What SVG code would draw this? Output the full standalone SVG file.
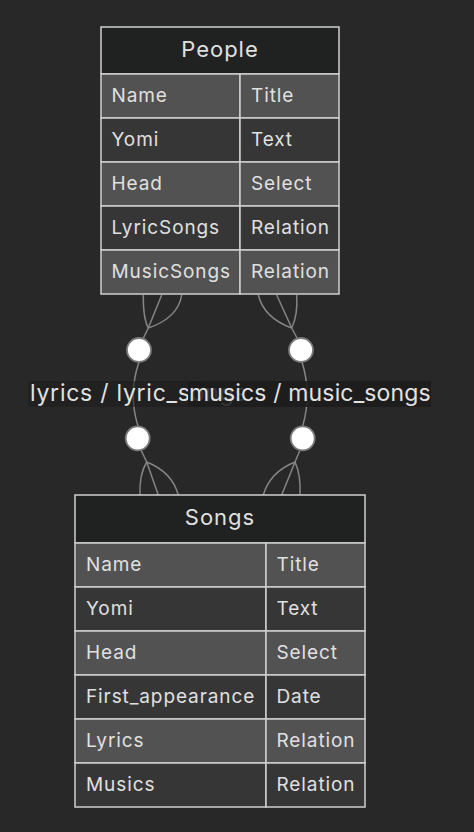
<svg xmlns="http://www.w3.org/2000/svg" width="474" height="832" viewBox="0 0 474 832">
<style>
.bg{fill:#282828}
.hdr{fill:#202121;stroke:#cfcfcf;stroke-width:1.5}
.rl{fill:#525252;stroke:#cfcfcf;stroke-width:1.5}
.rd{fill:#363636;stroke:#cfcfcf;stroke-width:1.5}
.t{font-family:Inter,"Liberation Sans",sans-serif;font-size:19px;letter-spacing:0.9px;fill:#e0e0e0}
.h{font-family:Inter,"Liberation Sans",sans-serif;font-size:22px;letter-spacing:1px;fill:#e0e0e0;text-anchor:middle}
.c{fill:none;stroke:#858585;stroke-width:1.5}
.dot{fill:#ffffff;stroke:#7a7a7a;stroke-width:1.8}
.lbl{font-family:Inter,"Liberation Sans",sans-serif;font-size:23px;fill:#e2e2e2}
.lb{fill:#1c1c1c}
</style>
<rect class="bg" x="0" y="0" width="474" height="832"/>
<g id="connectors">
  <path class="c" d="M143.3,295 Q143,318 148.3,328"/>
  <path class="c" d="M161.7,295 L148.3,328"/>
  <path class="c" d="M181.7,295 Q178,318 148.3,328"/>
  <path class="c" d="M148.3,328 L142,341"/>
  <path class="c" d="M139,362 Q128,394 138,426"/>
  <path class="c" d="M141,450 L146.7,462"/>
  <path class="c" d="M146.7,462 Q139,475 140,495"/>
  <path class="c" d="M146.7,462 L158.3,495"/>
  <path class="c" d="M146.7,462 Q172,472 178.3,495"/>
  <path class="c" d="M258.3,295 Q264,318 291.7,328"/>
  <path class="c" d="M276.7,295 L291.7,328"/>
  <path class="c" d="M296.7,295 Q298,315 291.7,328"/>
  <path class="c" d="M291.7,328 L297,338"/>
  <path class="c" d="M302,362 Q312,394 302.7,426"/>
  <path class="c" d="M300,450 L295,462"/>
  <path class="c" d="M295,462 Q270,472 263.3,495"/>
  <path class="c" d="M295,462 L281.7,495"/>
  <path class="c" d="M295,462 Q301,475 300,495"/>
  <circle class="dot" cx="139" cy="350" r="12"/>
  <circle class="dot" cx="137.7" cy="438.3" r="12"/>
  <circle class="dot" cx="301" cy="350" r="12"/>
  <circle class="dot" cx="302.7" cy="438.3" r="12"/>
  <rect class="lb" x="28" y="381" width="175" height="26" opacity="0.6"/>
  <text class="lbl" x="30" y="401" letter-spacing="0.75">lyrics / lyric_songs</text>
  <rect class="lb" x="188" y="381" width="243" height="26" opacity="0.87"/>
  <text class="lbl" x="189" y="401" letter-spacing="0.15">musics / music_songs</text>
</g>
<g id="People">
  <rect class="hdr" x="101" y="27" width="238" height="47"/>
  <text class="h" x="220" y="57">People</text>
  <rect class="rl" x="101" y="74" width="139" height="44"/>
  <rect class="rl" x="240" y="74" width="99" height="44"/>
  <rect class="rd" x="101" y="118" width="139" height="44"/>
  <rect class="rd" x="240" y="118" width="99" height="44"/>
  <rect class="rl" x="101" y="162" width="139" height="44"/>
  <rect class="rl" x="240" y="162" width="99" height="44"/>
  <rect class="rd" x="101" y="206" width="139" height="44"/>
  <rect class="rd" x="240" y="206" width="99" height="44"/>
  <rect class="rl" x="101" y="250" width="139" height="44"/>
  <rect class="rl" x="240" y="250" width="99" height="44"/>
  <text class="t" x="111.5" y="102">Name</text><text class="t" x="251" y="102">Title</text>
  <text class="t" x="111.5" y="146">Yomi</text><text class="t" x="251" y="146">Text</text>
  <text class="t" x="111.5" y="190">Head</text><text class="t" x="251" y="190">Select</text>
  <text class="t" x="111.5" y="234">LyricSongs</text><text class="t" x="251" y="234">Relation</text>
  <text class="t" x="111.5" y="278">MusicSongs</text><text class="t" x="251" y="278">Relation</text>
</g>
<g id="Songs">
  <rect class="hdr" x="75" y="495" width="290" height="48"/>
  <text class="h" x="220" y="525">Songs</text>
  <rect class="rl" x="75" y="543" width="191" height="44"/>
  <rect class="rl" x="266" y="543" width="99" height="44"/>
  <rect class="rd" x="75" y="587" width="191" height="44"/>
  <rect class="rd" x="266" y="587" width="99" height="44"/>
  <rect class="rl" x="75" y="631" width="191" height="44"/>
  <rect class="rl" x="266" y="631" width="99" height="44"/>
  <rect class="rd" x="75" y="675" width="191" height="44"/>
  <rect class="rd" x="266" y="675" width="99" height="44"/>
  <rect class="rl" x="75" y="719" width="191" height="44"/>
  <rect class="rl" x="266" y="719" width="99" height="44"/>
  <rect class="rd" x="75" y="763" width="191" height="44"/>
  <rect class="rd" x="266" y="763" width="99" height="44"/>
  <text class="t" x="86" y="571">Name</text><text class="t" x="276.5" y="571">Title</text>
  <text class="t" x="86" y="615">Yomi</text><text class="t" x="276.5" y="615">Text</text>
  <text class="t" x="86" y="659">Head</text><text class="t" x="276.5" y="659">Select</text>
  <text class="t" x="86" y="703">First_appearance</text><text class="t" x="276.5" y="703">Date</text>
  <text class="t" x="86" y="747">Lyrics</text><text class="t" x="276.5" y="747">Relation</text>
  <text class="t" x="86" y="791">Musics</text><text class="t" x="276.5" y="791">Relation</text>
</g>
</svg>
